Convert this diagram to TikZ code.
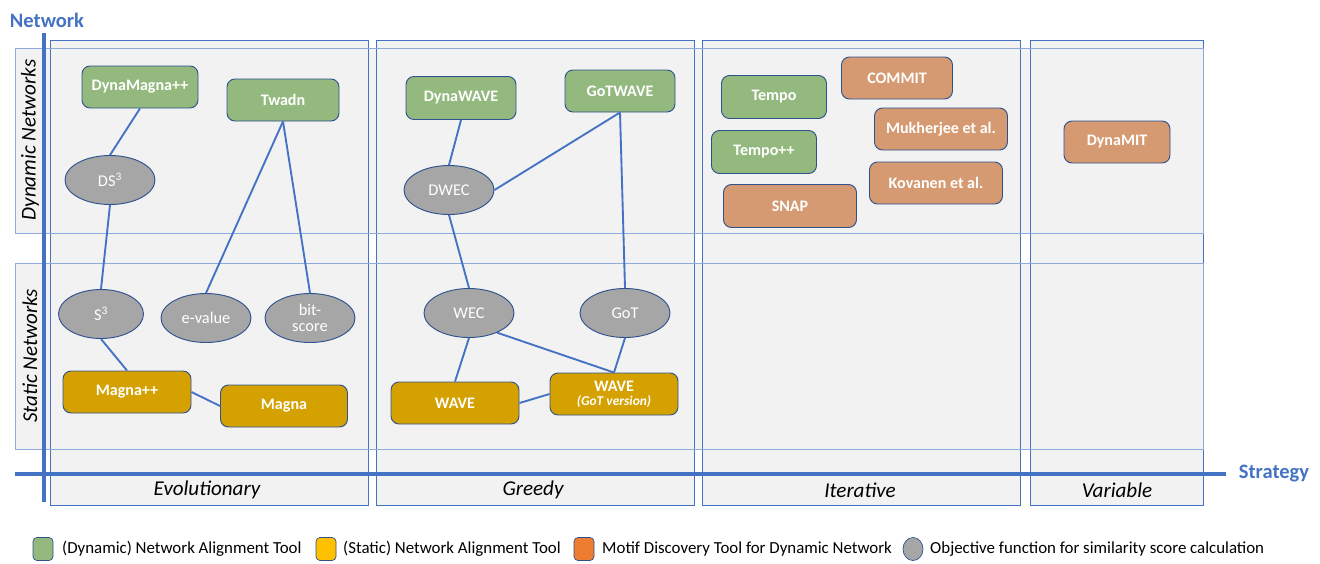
\documentclass[tikz,border=0pt]{standalone}
\usepackage{fontspec}
\setmainfont{Carlito}
\usepackage{tikz}
\usetikzlibrary{shapes.geometric}

\definecolor{axisblue}{HTML}{4472C4}
\definecolor{edgeblue}{HTML}{2F528F}
\definecolor{rowblue}{HTML}{8FAADC}
\definecolor{panelgray}{HTML}{F2F2F2}
\definecolor{dyngreen}{HTML}{93B97E}
\definecolor{statgold}{HTML}{D4A100}
\definecolor{motiforange}{HTML}{D59A72}
\definecolor{objgray}{HTML}{A6A6A6}
\definecolor{legyellow}{HTML}{FFC000}
\definecolor{legorange}{HTML}{ED7D31}

\begin{document}
\begin{tikzpicture}[%各種スタイル
          x=0.3mm,y=-0.3mm,
          tool/.style={
              draw=edgeblue,
              line width=0.8pt,
              rounded corners=2.4mm,
              minimum height=42*0.3mm,
              inner sep=0pt,
              text=white,
              font=\bfseries\fontsize{13.7}{15}\selectfont
            },wd/.style={
              minimum width=#1*0.3mm
            },objfun/.style={
              ellipse,
              draw=edgeblue,
              line width=0.8pt,
              fill=objgray,
              minimum width=90*0.3mm,
              minimum height=49*0.3mm,
              inner sep=0pt,
              text=white,
              align=center,
              font=\fontsize{14}{13.5}\selectfont
            },link/.style={
              axisblue,
              line width=1.6pt
            },axislabel/.style={
              text=axisblue,
              font=\bfseries\fontsize{17.5}{20}\selectfont
            },rowlabel/.style={
              rotate=90,
              font=\itshape\fontsize{18}{20}\selectfont
            },collabel/.style={
              font=\itshape\fontsize{18}{20}\selectfont
            },legbox/.style={
              draw=edgeblue,
              line width=0.6pt,
              rounded corners=1.2mm,
              minimum width=20*0.3mm,
              minimum height=23*0.3mm,
              inner sep=0pt
            },legtext/.style={
              anchor=west,
              inner sep=0pt,
              font=\fontsize{14.4}{16}\selectfont
            }
        ]
        \useasboundingbox (0,0) rectangle (1320,563);

        % 行の帯
        \draw[fill=panelgray, draw=axisblue] (15,48) rectangle (1203,233);
        \draw[fill=panelgray, draw=axisblue] (15,263) rectangle (1203,449);

        % 列の枠
        \draw[fill=panelgray, draw=axisblue] (50,40) rectangle (368,505);
        \draw[fill=panelgray, draw=axisblue] (376,40) rectangle (694,505);
        \draw[fill=panelgray, draw=axisblue] (702,40) rectangle (1020,505);
        \draw[fill=panelgray, draw=axisblue] (1030,40) rectangle (1203,505);
        \draw[rowblue] (15,48) rectangle (1203,233);
        \draw[rowblue] (15,263) rectangle (1203,449);

        % 軸
        \draw[axisblue, line width=3.2pt] (44,33) -- (44,502);
        \draw[axisblue, line width=3.2pt] (15,474) -- (1226,474);
        \node[axislabel] (network) at (47,20) {Network};
        \node[axislabel] (strategy) at (1274,474) {Strategy};

        % 行・列のラベル
        \node[rowlabel] (dynrow) at (30,140) {Dynamic Networks};
        \node[rowlabel] (statrow) at (30,356) {Static Networks};
        \node[collabel] (evolutionary) at (207,490) {Evolutionary};
        \node[collabel] (greedy) at (533,490) {Greedy};
        \node[collabel] (iterative) at (860,490) {Iterative};
        \node[collabel] (variable) at (1117,490) {Variable};

        % Evolutionary
        \node[tool, wd=116, fill=dyngreen] (dynamagna) at (140,87) {DynaMagna++};
        \node[tool, wd=112, fill=dyngreen] (twadn) at (283,100) {Twadn};
        \node[objfun] (ds3) at (110,180) {DS\textsuperscript{3}};
        \node[objfun, minimum width=85*0.3mm] (s3) at (101,314) {S\textsuperscript{3}};
        \node[objfun] (evalue) at (206,318) {e-value};
        \node[objfun] (bitscore) at (310,318) {bit-\\score};
        \node[tool, wd=128, fill=statgold] (magnapp) at (127,392) {Magna++};
        \node[tool, wd=127, fill=statgold] (magna) at (284,406) {Magna};

        \draw[link] (dynamagna.south) -- (ds3.north);
        \draw[link] (ds3.south) -- (s3.north);
        \draw[link] (twadn.south) -- (evalue.north);
        \draw[link] (twadn.south) -- (bitscore.north);
        \draw[link] (s3.south) -- (magnapp.north);
        \draw[link] (magnapp.east) -- (magna.west);

        % Greedy
        \node[tool, wd=110, minimum height=43*0.3mm, fill=dyngreen] (dynawave) at (461,98) {DynaWAVE};
        \node[tool, wd=110, fill=dyngreen] (gotwave) at (620,91) {GoTWAVE};
        \node[objfun] (dwec) at (449,190) {DWEC};
        \node[objfun] (wec) at (469,313) {WEC};
        \node[objfun] (got) at (625,313) {GoT};
        \node[tool, wd=128, fill=statgold] (wave) at (455,403) {WAVE};
        \node[tool, wd=128, fill=statgold, align=center] (wavegot) at (614,394)
          {WAVE\\[-3pt]{\itshape\fontsize{11.5}{13}\selectfont (GoT version)}};

        \draw[link] (dynawave.south) -- (dwec.north);
        \draw[link] (gotwave.south) -- (dwec.east);
        \draw[link] (gotwave.south) -- (got.north);
        \draw[link] (dwec.south) -- (wec.north);
        \draw[link] (wec.south) -- (wave.north);
        \draw[link] (wec.-35) -- (wavegot.north);
        \draw[link] (got.south) -- (wavegot.north);
        \draw[link] (wave.east) -- (wavegot.west);

        % Iterative
        \node[tool, wd=105, minimum height=43*0.3mm, fill=dyngreen] (tempo) at (774,97) {Tempo};
        \node[tool, wd=105, minimum height=43*0.3mm, fill=dyngreen] (tempopp) at (764,152) {Tempo++};
        \node[tool, wd=111, fill=motiforange] (commit) at (897,78) {COMMIT};
        \node[tool, wd=133, fill=motiforange] (mukherjee) at (941,129) {Mukherjee et al.};
        \node[tool, wd=133, fill=motiforange] (kovanen) at (936,183) {Kovanen et al.};
        \node[tool, wd=133, minimum height=43*0.3mm, fill=motiforange] (snap) at (790,206) {SNAP};

        % Variable
        \node[tool, wd=106, fill=motiforange] (dynamit) at (1117,142) {DynaMIT};

        % 凡例
        \node[legbox, fill=dyngreen] (legdyn) at (43,549) {};
        \node[legtext] (legdyntext) at (62,549) {(Dynamic) Network Alignment Tool};
        \node[legbox, fill=legyellow] (legstat) at (326,549) {};
        \node[legtext] (legstattext) at (343,549) {(Static) Network Alignment Tool};
        \node[legbox, fill=legorange] (legmotif) at (584,549) {};
        \node[legtext] (legmotiftext) at (602,549) {Motif Discovery Tool for Dynamic Network};
        \node[legbox, ellipse, fill=objgray] (legobj) at (913,549) {};
        \node[legtext] (legobjtext) at (930,549) {Objective function for similarity score calculation};

      \end{tikzpicture}
\end{document}
